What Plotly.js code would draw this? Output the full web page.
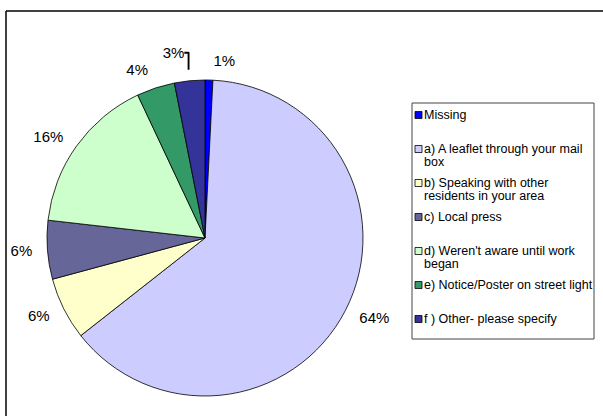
<!DOCTYPE html>
<html>
<head>
<meta charset="utf-8">
<script src="https://cdn.plot.ly/plotly-3.0.1.min.js"></script>
<style>html,body{margin:0;padding:0;background:#fff;overflow:hidden;}#chart{width:603px;height:416px;}</style>
</head>
<body>
<div id="chart"></div>
<script>
const categories = [
  "Missing",
  "a) A leaflet through your mail<br>box",
  "b) Speaking with other<br>residents in your area",
  "c) Local press",
  "d) Weren't aware until work<br>began",
  "e) Notice/Poster on street light",
  "f ) Other- please specify"
];
const values = [0.8, 63.6, 6.4, 6.0, 16.2, 3.9, 3.1];
const sliceColors = ["#0000FF", "#CCCCFF", "#FFFFCC", "#666699", "#CCFFCC", "#339966", "#333399"];

const W = 603, H = 416;
const px = x => x / W;
const py = y => 1 - y / H;
const FONT = "Liberation Sans, Arial, sans-serif";
const CX = 205, CY = 238, R = 158, RL = 169;

const pieTrace = {
  type: "pie",
  labels: categories,
  values: values,
  sort: false,
  direction: "clockwise",
  rotation: 0,
  marker: {colors: sliceColors, line: {color: "#000000", width: 0.8}},
  textposition: "none",
  hoverinfo: "none",
  automargin: false,
  showlegend: false,
  domain: {x: [px(CX - R), px(CX + R)], y: [py(CY + R), py(CY - R)]}
};
// transparent companion pie that only carries the outside percentage labels
const labelTrace = {
  type: "pie",
  labels: categories,
  values: values,
  sort: false,
  direction: "clockwise",
  rotation: 0,
  marker: {colors: values.map(() => "rgba(0,0,0,0)"), line: {width: 0}},
  textposition: "outside",
  texttemplate: "%{percent:.0%}",
  textfont: {family: FONT, size: 15, color: "#000"},
  outsidetextfont: {family: FONT, size: 15, color: "#000"},
  hoverinfo: "none",
  automargin: false,
  showlegend: false,
  domain: {x: [px(CX - RL), px(CX + RL)], y: [py(CY + RL), py(CY - RL)]}
};

// legend drawn as shapes + annotations, built from the category arrays
const legTop = 103, legBottom = 339, legLeft = 412, legRight = 594;
const firstY = 115, step = 34, lineStep = 13;
const shapes = [
  {type: "line", xref: "paper", yref: "paper", x0: px(6), x1: 1, y0: py(11), y1: py(11), line: {color: "#000", width: 1.5}},
  {type: "line", xref: "paper", yref: "paper", x0: px(6), x1: px(6), y0: py(11), y1: 0, line: {color: "#000", width: 1.5}},
  {type: "rect", xref: "paper", yref: "paper", x0: px(legLeft), x1: px(legRight), y0: py(legBottom), y1: py(legTop), line: {color: "#444", width: 1}, fillcolor: "rgba(0,0,0,0)"}
];
const annotations = [];
categories.forEach((cat, i) => {
  const cy = firstY + i * step;
  shapes.push({type: "rect", xref: "paper", yref: "paper",
    x0: px(415), x1: px(422), y0: py(cy + 3.5), y1: py(cy - 3.5),
    fillcolor: sliceColors[i], line: {color: "#000", width: 0.8}});
  cat.split("<br>").forEach((line, j) => {
    annotations.push({xref: "paper", yref: "paper", x: px(423), y: py(cy + j * lineStep),
      xanchor: "left", yanchor: "middle", align: "left", showarrow: false, borderpad: 0,
      text: line, font: {family: FONT, size: 12.5, color: "#000"}});
  });
});

const layout = {
  width: W, height: H,
  margin: {l: 0, r: 0, t: 0, b: 0},
  paper_bgcolor: "#ffffff",
  showlegend: false,
  shapes: shapes,
  annotations: annotations
};

Plotly.newPlot("chart", [pieTrace, labelTrace], layout, {displayModeBar: false, staticPlot: true});
</script>
</body>
</html>
